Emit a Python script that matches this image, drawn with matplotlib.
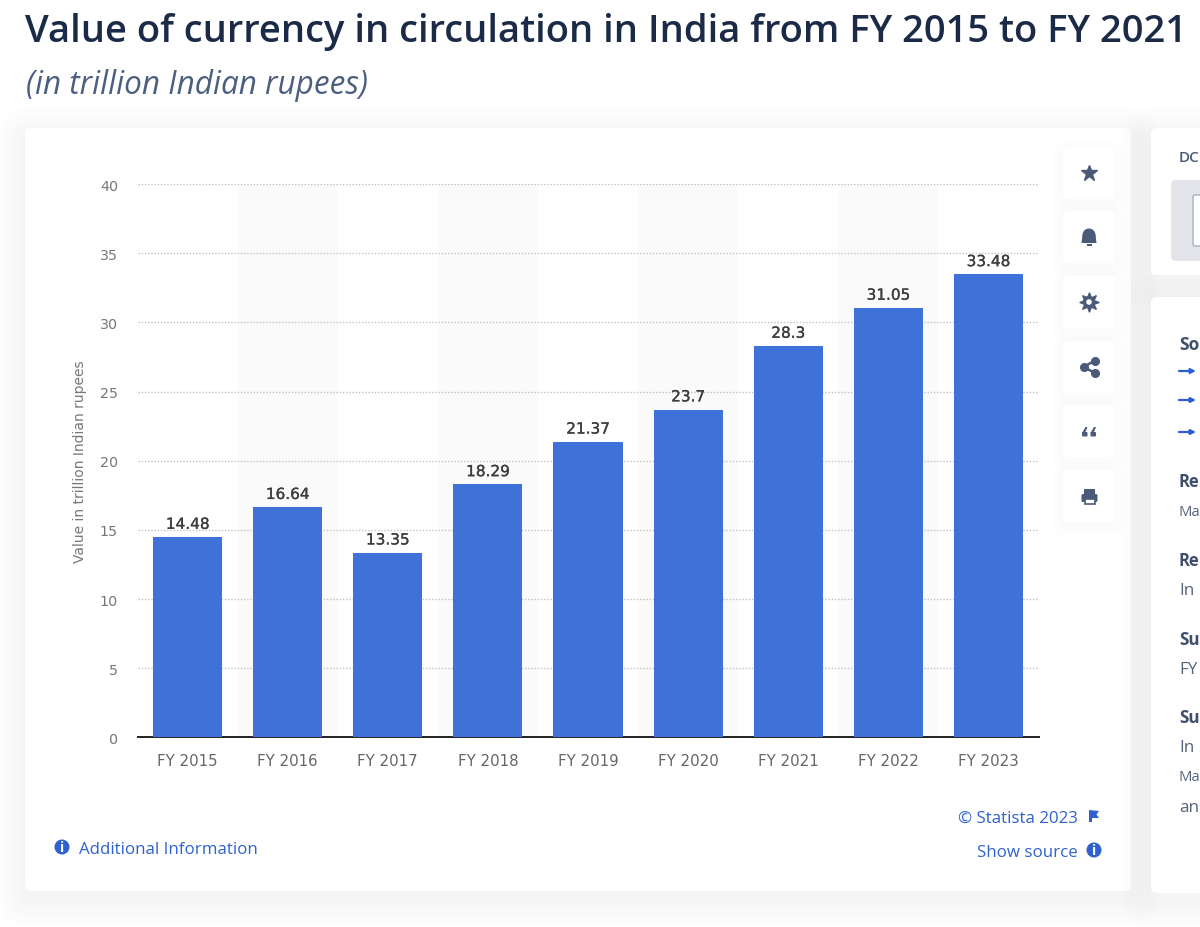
import matplotlib
matplotlib.use('Agg')
import matplotlib.pyplot as plt
import matplotlib.patheffects as pe
from matplotlib.patches import FancyBboxPatch, Circle, Rectangle, Polygon

years = ['FY 2015', 'FY 2016', 'FY 2017', 'FY 2018', 'FY 2019', 'FY 2020', 'FY 2021', 'FY 2022', 'FY 2023']
values = [14.48, 16.64, 13.35, 18.29, 21.37, 23.7, 28.3, 31.05, 33.48]
value_labels = ['14.48', '16.64', '13.35', '18.29', '21.37', '23.7', '28.3', '31.05', '33.48']
y_ticks = [0, 5, 10, 15, 20, 25, 30, 35, 40]

BLUE = '#3f72d9'
LINK = '#2f62cf'
ICON = '#4a5a78'
DARK = '#1b2a47'
W, H = 1200, 928

plt.rcParams['font.family'] = ['Open Sans', 'DejaVu Sans']
fig = plt.figure(figsize=(12, 9.28), dpi=100)

# page layer in pixel coordinates
page = fig.add_axes([0, 0, 1, 1], zorder=0)
page.set_xlim(0, W)
page.set_ylim(H, 0)
page.axis('off')


def card(x, y, w, h, r=6, spread=30, drop=8, strength=0.004):
    # soft shadow from many faint layers
    for grow in range(spread, 0, -3):
        page.add_patch(FancyBboxPatch((x - grow, y - grow + drop), w + 2 * grow, h + 2 * grow,
                                      boxstyle='round,pad=0,rounding_size=%d' % (r + grow),
                                      fc='#3a4a6b', ec='none', alpha=strength))
    page.add_patch(FancyBboxPatch((x, y), w, h, boxstyle='round,pad=0,rounding_size=%d' % r,
                                  fc='white', ec='none'))


def info(x, y, r=7.5):
    page.add_patch(Circle((x, y), r, fc=LINK, ec='none'))
    page.text(x, y + 0.3, 'i', color='white', fontsize=r * 1.3, fontweight='bold', ha='center', va='center')


card(25, 129, 1106, 763)
card(1151, 129, 80, 147)
card(1151, 298, 80, 596)

page.text(25, 32, 'Value of currency in circulation in India from FY 2015 to FY 2021',
          fontsize=27.45, fontweight=600, color=DARK, va='center', ha='left')
page.text(26, 85, '(in trillion Indian rupees)', fontsize=22.7, style='italic', color='#4c5f80', va='center')

# side buttons
for yc in [174, 238, 303, 368, 432, 497]:
    card(1063, yc - 26, 52, 52, r=5, spread=12, drop=4, strength=0.005)
page.plot(1089, 174, marker='*', ms=12, color=ICON, mec=ICON)
# bell
page.add_patch(Circle((1089, 236), 6.5, fc=ICON, ec='none'))
page.add_patch(Polygon([(1082.5, 236), (1095.5, 236), (1096.5, 244), (1081.5, 244)], fc=ICON, ec='none'))
page.add_patch(Rectangle((1086.5, 245), 5, 1.5, fc=ICON, ec='none'))
# gear
page.plot(1089, 303, marker=(8, 1, 0), ms=14, color=ICON, mec=ICON)
page.add_patch(Circle((1089, 303), 6.2, fc=ICON, ec='none', zorder=4))
page.add_patch(Circle((1089, 303), 2.8, fc='white', ec='none', zorder=5))
# share
page.plot([1095, 1083.5, 1095], [361.5, 368, 374], color=ICON, lw=1.8, marker='o', ms=5.5)
# quotes
for qx in [1082, 1090.5]:
    page.add_patch(FancyBboxPatch((qx, 433), 5.5, 4.5, boxstyle='round,pad=0,rounding_size=1', fc=ICON, ec='none'))
    page.add_patch(Polygon([(qx, 434), (qx + 3.5, 428), (qx + 5.5, 428), (qx + 3, 434)], fc=ICON, ec='none'))
# printer
page.add_patch(Rectangle((1084, 490), 11, 5, fc=ICON, ec='none'))
page.add_patch(FancyBboxPatch((1081.5, 495), 16, 8, boxstyle='round,pad=0,rounding_size=1.5', fc=ICON, ec='none'))
page.add_patch(Rectangle((1084.5, 500), 10, 5, fc='white', ec=ICON, lw=1.2, zorder=5))

# footer links
page.text(1078, 819, '\u00a9 Statista 2023', fontsize=12.2, color=LINK, ha='right', va='center')
page.add_patch(Polygon([(1089, 811), (1099, 812), (1096.5, 815.5), (1099, 819), (1092, 819), (1092, 823), (1089, 823)],
                       fc=LINK, ec='none'))
page.text(1078, 853, 'Show source', fontsize=12.2, color=LINK, ha='right', va='center')
info(1094, 851)
info(62, 848)
page.text(79, 850, 'Additional Information', fontsize=12.2, color=LINK, va='center')

# right panel, only the letters that show before the image edge
page.text(1179, 158, 'DC', fontsize=11, fontweight=600, color='#4a5a78', va='center')
page.add_patch(FancyBboxPatch((1171, 181), 40, 81, boxstyle='round,pad=0,rounding_size=5', fc='#e2e4e9', ec='none'))
page.add_patch(FancyBboxPatch((1193, 196), 20, 51, boxstyle='round,pad=0,rounding_size=2', fc='white', ec='#a9afbb', lw=1))
for yy, txt, size, weight in [(345, 'So', 12.5, 'bold'), (482, 'Re', 12, 'bold'), (512, 'Ma', 10.7, 'normal'),
                              (561, 'Re', 12, 'bold'), (591, 'In', 12.3, 'normal'), (640, 'Su', 12.3, 'bold'),
                              (670, 'FY', 12.3, 'normal'), (718, 'Su', 12.3, 'bold'), (748, 'In', 12.3, 'normal'),
                              (778, 'Ma', 10.7, 'normal'), (808, 'an', 12.3, 'normal')]:
    page.text(1179, yy, txt, fontsize=size, fontweight=weight,
              color='#3f4f6d' if weight == 'bold' else '#56647e', va='center')
for yy in [372, 401, 433]:
    page.annotate('', xy=(1196, yy), xytext=(1179, yy),
                  arrowprops=dict(arrowstyle='-|>', color='#2a5fd6', lw=1.6, mutation_scale=7, shrinkA=0, shrinkB=0))

# chart
ax = fig.add_axes([137.5 / W, 1 - 738.3 / H, 901 / W, (738.3 - 185.2) / H], zorder=2)
ax.patch.set_alpha(0)
x = list(range(len(years)))
for i in x:
    if i % 2 == 1:
        ax.axvspan(i - 0.5, i + 0.5, color='#fafafb', lw=0, zorder=0)
ax.bar(x, values, width=0.69, color=BLUE, zorder=3)
for i in x:
    ax.text(i, values[i] + 0.38, value_labels[i], ha='center', va='bottom', fontsize=11,
            color='#3d3d3d', family='DejaVu Sans', zorder=4,
            path_effects=[pe.withStroke(linewidth=0.2, foreground='#3d3d3d')])
ax.set_xlim(-0.5, 8.5)
ax.set_ylim(0, 40)
ax.set_yticks(y_ticks)
ax.set_xticks(x, years)
ax.yaxis.grid(True, ls=(0, (1, 1.3)), color='#c2c2c2', lw=1, zorder=1)
ax.tick_params(axis='both', length=0)
ax.tick_params(axis='x', pad=11, labelsize=10.8, labelcolor='#666666')
ax.tick_params(axis='y', pad=14, labelsize=10.3, labelcolor='#777777')
for lab in ax.get_xticklabels() + ax.get_yticklabels():
    lab.set_family('DejaVu Sans')
for s in ['top', 'left', 'right']:
    ax.spines[s].set_visible(False)
ax.spines['bottom'].set_color('#222222')
ax.spines['bottom'].set_linewidth(1.4)
ax.set_ylabel('Value in trillion Indian rupees', fontsize=10, color='#777777', family='DejaVu Sans')
ax.yaxis.set_label_coords((87 - 137.5) / 901, 0.5)

fig.savefig('out.png', dpi=100)
